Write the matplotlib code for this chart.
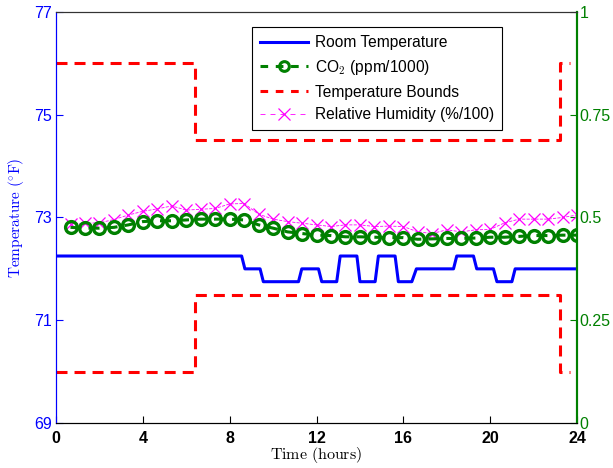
import numpy as np
import matplotlib
matplotlib.use('Agg')
import matplotlib.pyplot as plt
from matplotlib.lines import Line2D

plt.rcParams['font.family'] = 'Liberation Sans'
plt.rcParams['mathtext.fontset'] = 'cm'

# room temperature (deg F), piecewise with short ramps
room_t = [0, 8.55, 8.7, 9.4, 9.55, 11.17, 11.32, 12.09, 12.24, 12.93, 13.09, 13.86, 14.0,
          14.7, 14.85, 15.62, 15.77, 16.39, 16.6, 18.31, 18.46, 19.23, 19.38, 20.15, 20.31,
          21.0, 21.15, 24]
room_v = [72.25, 72.25, 72.0, 72.0, 71.75, 71.75, 72.0, 72.0, 71.75, 71.75, 72.25, 72.25, 71.75,
          71.75, 72.25, 72.25, 71.75, 71.75, 72.0, 72.0, 72.25, 72.25, 72.0, 72.0, 71.75,
          71.75, 72.0, 72.0]

# temperature bounds
bound_t = [0, 6.4, 6.4, 23.2, 23.2, 23.67]
upper_v = [76, 76, 74.5, 74.5, 76, 76]
lower_v = [70, 70, 71.5, 71.5, 70, 70]

# sampled every 40 minutes
samp_t = np.linspace(2/3, 24, 36)
co2 = [0.476, 0.474, 0.474, 0.476, 0.482, 0.490, 0.492, 0.492, 0.494, 0.496, 0.496, 0.496,
       0.494, 0.482, 0.474, 0.465, 0.461, 0.457, 0.456, 0.453, 0.453, 0.452, 0.451, 0.451,
       0.447, 0.448, 0.449, 0.449, 0.450, 0.452, 0.452, 0.454, 0.456, 0.456, 0.457, 0.457]
humid = [0.484, 0.486, 0.487, 0.495, 0.506, 0.515, 0.521, 0.528, 0.518, 0.520, 0.522, 0.533,
         0.534, 0.508, 0.496, 0.490, 0.486, 0.482, 0.478, 0.482, 0.482, 0.478, 0.479, 0.478,
         0.465, 0.461, 0.470, 0.465, 0.470, 0.471, 0.487, 0.496, 0.496, 0.496, 0.500, 0.506]

blue = (0, 0, 1)
green = (0, 0.5, 0)
red = (1, 0, 0)
mag = (1, 0, 1)

fig = plt.figure(figsize=(6.13, 4.68), dpi=100)
ax1 = fig.add_axes([0.0914, 0.0962, 0.8499, 0.8782])
ax2 = ax1.twinx()

ax1.plot(room_t, room_v, color=blue, lw=2.2)
ax1.plot(bound_t, upper_v, color=red, lw=2.2, dashes=(3.6, 2.3))
ax1.plot(bound_t, lower_v, color=red, lw=2.2, dashes=(3.6, 2.3))

ax2.plot(samp_t, humid, color=mag, lw=0.6, ls='--', marker='x', ms=8, mew=0.9)
ax2.plot(samp_t, co2, color=green, lw=2.2, dashes=(3.6, 2.3), marker='o', ms=8.5,
         mfc='none', mew=2.4)

ax1.set_xlim(0, 24)
ax1.set_ylim(69, 77)
ax2.set_ylim(0, 1)
ax1.set_xticks([0, 4, 8, 12, 16, 20, 24])
ax1.set_yticks([69, 71, 73, 75, 77])
ax2.set_yticks([0, 0.25, 0.5, 0.75, 1])
ax2.set_yticklabels(['0', '0.25', '0.5', '0.75', '1'])

ax1.tick_params(axis='x', direction='in', length=5, labelsize=11.5, pad=6)
for lab in ax1.get_xticklabels():
    lab.set_fontweight('bold')
ax1.tick_params(axis='y', direction='in', length=5, colors=blue, labelsize=11.5, pad=3)
ax2.tick_params(axis='y', direction='in', length=5, colors=green, labelsize=11.5, pad=2)

ax1.spines['left'].set_color(blue)
ax2.spines['left'].set_color(blue)
ax2.spines['right'].set_color(green)
ax1.spines['right'].set_color(green)
for ax in (ax1, ax2):
    ax.spines['right'].set_linewidth(1.5)
    ax.spines['top'].set_color('#333333')

ax1.set_xlabel(r'$\mathrm{Time\ (hours)}$', fontsize=11.5, labelpad=-1)
ax1.set_ylabel(r'$\mathrm{Temperature\ (^{\circ}F)}$', fontsize=11, color=blue, labelpad=6)

handles = [
    Line2D([], [], color=blue, lw=2.2),
    Line2D([], [], color=green, lw=2.2, dashes=(2.5, 2.5), marker='o', ms=7, mfc='none', mew=2.2),
    Line2D([], [], color=red, lw=2.2, dashes=(2.5, 2.5)),
    Line2D([], [], color=mag, lw=0.6, dashes=(6, 6), marker='x', ms=8, mew=0.9),
]
labels = ['Room Temperature', r'CO$_2$ (ppm/1000)', 'Temperature Bounds', 'Relative Humidity (%/100)']
leg = ax2.legend(handles, labels, loc='upper left', bbox_to_anchor=(0.377, 0.963),
                 fontsize=11.2, frameon=True, fancybox=False, framealpha=1,
                 edgecolor='black', handlelength=3.1, handletextpad=0.4,
                 labelspacing=0.5, borderpad=0.5, borderaxespad=0)
leg.get_frame().set_linewidth(0.8)

fig.savefig('out.png', dpi=100)
